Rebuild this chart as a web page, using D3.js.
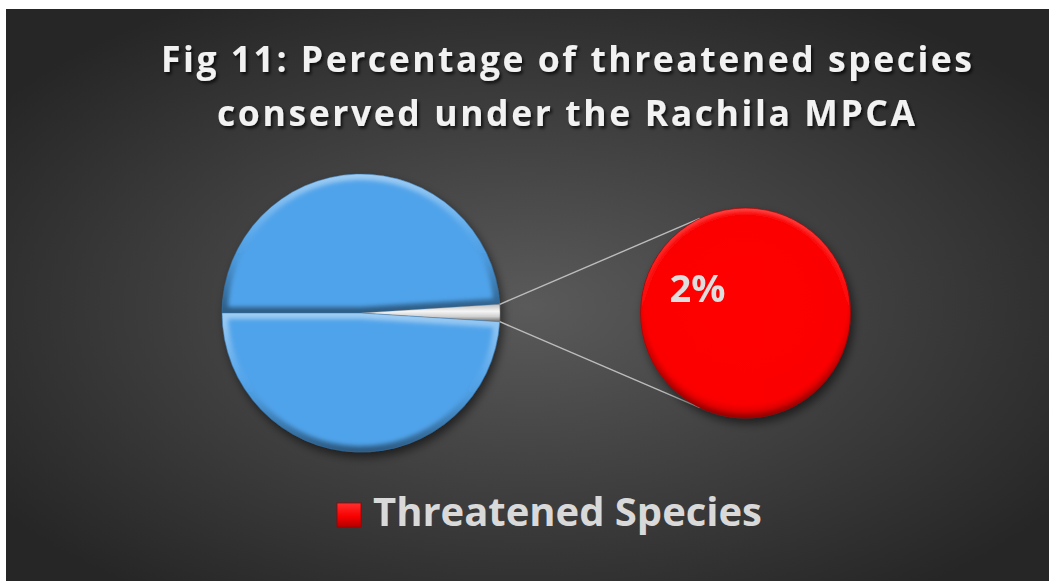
<!DOCTYPE html>
<html>
<head>
<meta charset="utf-8">
<script src="https://cdn.jsdelivr.net/npm/d3@7"></script>
<style>
  html, body { margin: 0; padding: 0; background: #ffffff; }
  svg { display: block; }
  text { font-family: "Open Sans", "Noto Sans", sans-serif; font-weight: 700; }
</style>
</head>
<body>
<svg id="chart" width="1051" height="581"></svg>
<script>
// ---- data ----
const titleLines = ["Fig 11: Percentage of threatened species", "conserved under the Rachila MPCA"];
const mainCategories = ["Species group 1", "Threatened Species", "Species group 2"];
const mainValues = [49, 2, 49];
const secondaryCategories = ["Threatened Species"];
const secondaryValues = [2];
const legendLabels = ["Threatened Species"];

// ---- layout ----
const W = 1051, H = 581;
const panel = { x: 6, y: 9, w: 1043, h: 572 };
const main = { cx: 361, cy: 313, r: 139 };
const second = { cx: 745.5, cy: 313, r: 105 };
const connectAngle = 0.45; // where the joining lines meet the secondary pie (radians from vertical)

const svg = d3.select("#chart");
const defs = svg.append("defs");

// background: dark radial gradient
const bg = defs.append("radialGradient").attr("id", "bgGrad")
  .attr("cx", "50%").attr("cy", "52%").attr("r", "62%");
bg.append("stop").attr("offset", "0%").attr("stop-color", "#5a5a5a");
bg.append("stop").attr("offset", "100%").attr("stop-color", "#262626");

// soft drop shadows
const sh = defs.append("filter").attr("id", "pieShadow")
  .attr("x", "-20%").attr("y", "-20%").attr("width", "150%").attr("height", "150%");
sh.append("feDropShadow").attr("dx", 3).attr("dy", 5).attr("stdDeviation", 5)
  .attr("flood-color", "#000").attr("flood-opacity", 0.55);

const tsh = defs.append("filter").attr("id", "textShadow")
  .attr("x", "-5%").attr("y", "-30%").attr("width", "110%").attr("height", "170%");
tsh.append("feDropShadow").attr("dx", 2).attr("dy", 2.5).attr("stdDeviation", 1.8)
  .attr("flood-color", "#000").attr("flood-opacity", 0.7);

const blur = defs.append("filter").attr("id", "bevelBlur")
  .attr("x", "-10%").attr("y", "-10%").attr("width", "120%").attr("height", "120%");
blur.append("feGaussianBlur").attr("stdDeviation", 2.2);

// bevel: light upper edge, dark lower edge (per slice bounding box)
const bevel = defs.append("linearGradient").attr("id", "bevelGrad")
  .attr("x1", 0).attr("y1", 0).attr("x2", 0).attr("y2", 1);
bevel.append("stop").attr("offset", "0%").attr("stop-color", "#ffffff").attr("stop-opacity", 0.45);
bevel.append("stop").attr("offset", "45%").attr("stop-color", "#ffffff").attr("stop-opacity", 0.05);
bevel.append("stop").attr("offset", "60%").attr("stop-color", "#000000").attr("stop-opacity", 0.05);
bevel.append("stop").attr("offset", "100%").attr("stop-color", "#000000").attr("stop-opacity", 0.45);

// body fill of the blue slices
const blueGrad = defs.append("linearGradient").attr("id", "blueGrad")
  .attr("gradientUnits", "userSpaceOnUse")
  .attr("x1", 0).attr("y1", main.cy - main.r).attr("x2", 0).attr("y2", main.cy + main.r);
blueGrad.append("stop").attr("offset", "0%").attr("stop-color", "#50a3ea");
blueGrad.append("stop").attr("offset", "100%").attr("stop-color", "#3f8ed8");

// the grouped "other" wedge
const otherGrad = defs.append("linearGradient").attr("id", "otherGrad")
  .attr("x1", 0).attr("y1", 0).attr("x2", 0).attr("y2", 1);
otherGrad.append("stop").attr("offset", "0%").attr("stop-color", "#bdbdbd");
otherGrad.append("stop").attr("offset", "40%").attr("stop-color", "#f6f6f6");
otherGrad.append("stop").attr("offset", "70%").attr("stop-color", "#d0d0d0");
otherGrad.append("stop").attr("offset", "100%").attr("stop-color", "#6a6a6a");

const redGrad = defs.append("radialGradient").attr("id", "redGrad")
  .attr("cx", "50%").attr("cy", "45%").attr("r", "55%");
redGrad.append("stop").attr("offset", "0%").attr("stop-color", "#ff0000");
redGrad.append("stop").attr("offset", "88%").attr("stop-color", "#fb0000");
redGrad.append("stop").attr("offset", "100%").attr("stop-color", "#c80000");

const legendGrad = defs.append("linearGradient").attr("id", "legendGrad")
  .attr("x1", 0).attr("y1", 0).attr("x2", 0).attr("y2", 1);
legendGrad.append("stop").attr("offset", "0%").attr("stop-color", "#ff3030");
legendGrad.append("stop").attr("offset", "55%").attr("stop-color", "#f80000");
legendGrad.append("stop").attr("offset", "100%").attr("stop-color", "#b40000");

// panel
svg.append("rect")
  .attr("x", panel.x).attr("y", panel.y).attr("width", panel.w).attr("height", panel.h)
  .attr("fill", "url(#bgGrad)");

// ---- title ----
const titleG = svg.append("g").attr("filter", "url(#textShadow)");
const titleSpecs = [
  { y: 72, x0: 161, x1: 972 },
  { y: 126, x0: 217, x1: 915 }
];
titleLines.forEach((line, i) => {
  const s = titleSpecs[i];
  titleG.append("text")
    .attr("x", s.x0).attr("y", s.y)
    .attr("font-size", 35.5)
    .attr("fill", "#f2f2f2")
    .attr("textLength", s.x1 - s.x0)
    .attr("lengthAdjust", "spacing")
    .text(line);
});

// ---- primary pie ----
const total = d3.sum(mainValues);
const pieMain = d3.pie().sort(null)
  .startAngle(-Math.PI / 2).endAngle(3 * Math.PI / 2)(mainValues);
const arcMain = d3.arc().innerRadius(0).outerRadius(main.r);
const otherIndex = mainCategories.indexOf("Threatened Species");

const mainG = svg.append("g")
  .attr("transform", `translate(${main.cx},${main.cy})`)
  .attr("filter", "url(#pieShadow)");

pieMain.forEach((d, i) => {
  const clipId = "clipMain" + i;
  defs.append("clipPath").attr("id", clipId)
    .append("path").attr("d", arcMain(d));
  const g = mainG.append("g");
  const isOther = i === otherIndex;
  g.append("path").attr("d", arcMain(d))
    .attr("fill", isOther ? "url(#otherGrad)" : "url(#blueGrad)");
  if (!isOther) {
    g.append("g").attr("clip-path", `url(#${clipId})`)
      .append("path").attr("d", arcMain(d))
      .attr("fill", "none")
      .attr("stroke", "url(#bevelGrad)").attr("stroke-width", 12)
      .attr("filter", "url(#bevelBlur)");
  }
  g.append("path").attr("d", arcMain(d))
    .attr("fill", "none")
    .attr("stroke", isOther ? "#7a7a7a" : "#2f6ea8")
    .attr("stroke-opacity", isOther ? 0.4 : 0.55)
    .attr("stroke-width", 0.8);
});

// ---- joining lines ----
const otherSlice = pieMain[otherIndex];
const onCircle = (c, r, a) => [c.cx + r * Math.sin(a), c.cy - r * Math.cos(a)];
const joins = [
  [onCircle(main, main.r, otherSlice.startAngle), onCircle(second, second.r, -connectAngle)],
  [onCircle(main, main.r, otherSlice.endAngle), onCircle(second, second.r, Math.PI + connectAngle)]
];
svg.append("g").selectAll("line").data(joins).join("line")
  .attr("x1", d => d[0][0]).attr("y1", d => d[0][1])
  .attr("x2", d => d[1][0]).attr("y2", d => d[1][1])
  .attr("stroke", "#bcbcbc").attr("stroke-width", 1.4);

// ---- secondary pie ----
const pieSecond = d3.pie().sort(null)(secondaryValues);
const arcSecond = d3.arc().innerRadius(0).outerRadius(second.r);
const secondG = svg.append("g")
  .attr("transform", `translate(${second.cx},${second.cy})`)
  .attr("filter", "url(#pieShadow)");
pieSecond.forEach((d, i) => {
  const clipId = "clipSecond" + i;
  defs.append("clipPath").attr("id", clipId)
    .append("path").attr("d", arcSecond(d));
  secondG.append("path").attr("d", arcSecond(d)).attr("fill", "url(#redGrad)");
  secondG.append("g").attr("clip-path", `url(#${clipId})`)
    .append("path").attr("d", arcSecond(d))
    .attr("fill", "none")
    .attr("stroke", "url(#bevelGrad)").attr("stroke-width", 8).attr("stroke-opacity", 0.6)
    .attr("filter", "url(#bevelBlur)");
  secondG.append("path").attr("d", arcSecond(d))
    .attr("fill", "none").attr("stroke", "#a00000")
    .attr("stroke-opacity", 0.6).attr("stroke-width", 1);
});

// data label on the secondary pie: share of the whole
const pct = d3.format(".0%");
secondG.append("text")
  .attr("x", -48).attr("y", -11)
  .attr("text-anchor", "middle")
  .attr("font-size", 38)
  .attr("fill", "#dedede")
  .text(pct(secondaryValues[0] / total));

// ---- legend ----
const legendG = svg.append("g");
legendG.append("rect")
  .attr("x", 337).attr("y", 503).attr("width", 24).attr("height", 24)
  .attr("fill", "url(#legendGrad)")
  .attr("stroke", "#9a0000").attr("stroke-width", 0.8);
legendG.append("text")
  .attr("x", 373).attr("y", 526)
  .attr("font-size", 40)
  .attr("fill", "#d9d9d9")
  .attr("textLength", 389)
  .attr("lengthAdjust", "spacing")
  .text(legendLabels[0]);
</script>
</body>
</html>
